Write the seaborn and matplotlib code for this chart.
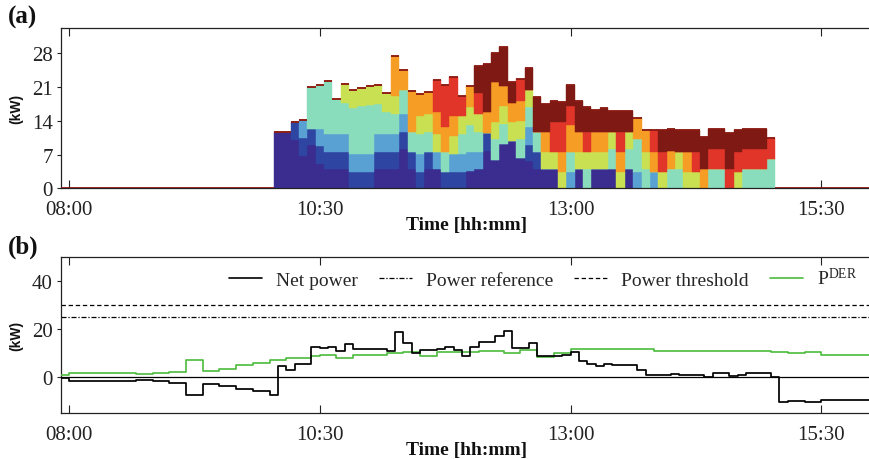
import numpy as np
import pandas as pd
import matplotlib
matplotlib.use("Agg")
import matplotlib.pyplot as plt
from matplotlib.lines import Line2D
import seaborn as sns

# ---------------- data ----------------
# (a) EV charging power, 5-min intervals, first interval centred at 10:05
ev_first = "10:05"
ev_step_min = 5
indigo = [11.7, 11.7, 10.1, 6.8, 9.0, 5.0, 4.0, 4.0, 4.0, 0,
          0, 0, 4.0, 4.0, 4.0, 8.2, 4.0, 0, 4.0, 4.0,
          0, 0, 0, 3.6, 4.0, 7.8, 5.9, 9.2, 9.9, 6.2,
          5.7, 4.0, 4.0, 4.0, 0, 0, 4.0, 0, 4.0, 4.0,
          4.0, 0, 4.0, 0, 0, 0, 0, 0, 0, 0,
          0, 0, 0, 0, 0, 0, 0, 0, 0, 0]
blue = [0, 0, 3.7, 3.6, 3.4, 3.7, 3.6, 3.6, 3.6, 3.4,
        3.4, 3.4, 3.6, 3.6, 3.6, 3.5, 3.6, 3.4, 3.6, 0,
        3.4, 3.4, 3.4, 0, 0, 3.7, 0, 0, 0, 0,
        3.3, 3.6, 0, 0, 0, 0, 0, 0, 0, 0,
        0, 0, 0, 0, 0, 0, 0, 0, 0, 0,
        0, 0, 0, 0, 0, 0, 0, 0, 0, 0]
light_blue = [0, 0, 0, 3.8, 0, 3.7, 3.7, 3.7, 3.7, 3.7,
              3.7, 3.7, 3.7, 3.7, 3.7, 3.7, 0, 3.7, 0, 3.6,
              0, 3.7, 3.7, 4.0, 3.6, 0, 0, 0, 0, 0,
              3.7, 0, 0, 0, 0, 3.4, 0, 0, 0, 0,
              0, 0, 0, 3.4, 0, 3.4, 0, 0, 0, 0,
              0, 0, 0, 0, 0, 0, 0, 0, 0, 0]
teal = [0, 0, 0, 0, 8.7, 9.0, 10.9, 7.2, 6.5, 9.6,
        10.0, 10.2, 6.2, 4.5, 4.1, 4.9, 4.1, 4.2, 4.1, 0,
        4.2, 0, 4.2, 5.5, 4.0, 0, 4.3, 4.1, 0, 4.0,
        4.1, 4.1, 0, 0, 0, 4.2, 0, 4.0, 0, 0,
        4.2, 0, 4.2, 6.8, 4.0, 0, 0, 4.0, 4.0, 0,
        0, 0, 4.0, 4.0, 0, 0, 4.0, 4.0, 4.0, 6.1]
yellow_green = [0, 0, 0, 0, 0, 0, 0, 0, 3.8, 3.8,
                3.7, 3.9, 3.9, 4.0, 3.7, 0, 0, 3.6, 3.7, 3.7,
                0, 3.7, 3.6, 3.7, 3.8, 0, 3.6, 3.8, 3.8, 3.8,
                3.7, 0, 3.6, 3.6, 3.4, 0, 3.6, 3.6, 3.6, 3.6,
                3.5, 3.4, 3.5, 0, 3.6, 0, 3.4, 0, 3.6, 3.4,
                3.4, 0, 0, 0, 0, 3.4, 0, 0, 0, 0]
orange = [0, 0, 0, 0, 0, 0, 0, 0, 0, 0,
          0, 0, 0, 0, 8.4, 4.2, 8.4, 4.7, 4.5, 4.6,
          5.2, 4.1, 0, 4.4, 0, 4.3, 8.2, 4.1, 4.0, 4.2,
          0, 0, 4.1, 0, 4.2, 5.5, 4.1, 0, 4.1, 4.1,
          0, 4.2, 0, 4.3, 4.4, 4.2, 0, 3.8, 0, 4.2,
          0, 4.0, 0, 0, 0, 0, 0, 0, 0, 0]
red = [0, 0, 0, 0, 0, 0, 0, 0, 0, 0,
       0, 0, 0, 0, 0, 0, 0, 0, 0, 6.6,
       8.7, 8.1, 4.3, 0, 4.4, 0, 0, 0, 0, 4.5,
       0, 0, 0, 6.1, 6.1, 4.0, 0, 4.1, 0, 0,
       0, 4.1, 0, 0, 0, 4.4, 4.2, 0, 0, 0,
       4.2, 0, 4.2, 4.2, 4.0, 4.2, 4.2, 4.2, 4.2, 4.3]
dark_red = [0, 0, 0, 0, 0, 0, 0, 0, 0, 0,
            0, 0, 0, 0, 0, 0, 0, 0, 0, 0,
            0, 0, 0, 0, 5.6, 10.0, 6.0, 8.1, 4.4, 0,
            4.4, 7.2, 5.8, 4.5, 4.3, 4.3, 6.5, 5.1, 4.6, 4.9,
            4.4, 4.4, 4.4, 0, 0, 0, 4.4, 4.6, 4.4, 4.4,
            4.4, 6.7, 4.2, 4.2, 7.5, 4.4, 4.2, 4.2, 4.2, 0]
layer_colors = ["#3b2c90", "#2f45a2", "#5aa1d3", "#89ddbd",
                "#c8e052", "#f59d25", "#e1352a", "#7e1a13"]

# (b) 5-min grid starting 07:55
grid_first = "07:55"
grid_step_min = 5
net_power = [-0.5, -1.4, -1.4, -1.4, -1.4, -1.4, -1.4, -1.4, -1.4, -1.1,
             -1.1, -1.5, -1.5, -2.3, -2.3, -7.2, -7.2, -2.8, -2.8, -3.5,
             -3.5, -5.1, -5.1, -5.8, -5.8, -7.2, 4.8, 3.1, 5.5, 5.5,
             12.4, 12.0, 12.6, 11.0, 13.7, 11.7, 11.7, 11.7, 11.7, 11.0,
             18.6, 14.2, 10.1, 11.2, 11.2, 11.7, 12.6, 11.2, 8.6, 12.6,
             14.7, 14.7, 16.9, 19.2, 12.1, 12.1, 14.0, 8.9, 8.6, 8.6,
             9.0, 10.3, 6.6, 5.5, 4.8, 5.5, 5.1, 5.1, 5.1, 3.1,
             1.0, 1.0, 1.0, 1.4, 1.0, 1.0, 1.0, 0.0, 1.6, 1.6,
             0.4, 1.0, 1.8, 1.8, 1.8, 0.2, -10.3, -10.0, -10.0, -10.3,
             -10.3, -9.3, -9.3, -9.3, -9.3, -9.3, -9.3]
p_der = [1.0, 1.6, 1.6, 1.6, 1.6, 1.6, 1.6, 1.6, 1.6, 1.2,
         1.2, 1.6, 1.6, 2.3, 2.3, 7.3, 7.3, 2.7, 2.7, 3.4,
         3.4, 5.1, 5.1, 5.8, 5.8, 7.1, 7.1, 8.0, 8.0, 8.0,
         8.9, 9.2, 9.2, 7.9, 7.9, 9.2, 9.2, 9.2, 9.2, 9.9,
         9.9, 10.6, 10.6, 8.9, 8.9, 10.6, 10.6, 10.6, 10.6, 10.6,
         11.0, 11.0, 11.0, 10.1, 10.1, 11.2, 11.2, 8.5, 8.5, 9.9,
         9.9, 11.7, 11.7, 11.7, 11.7, 11.7, 11.7, 11.7, 11.7, 11.7,
         11.7, 11.0, 11.0, 11.0, 11.0, 11.0, 11.0, 11.0, 11.0, 11.0,
         11.0, 11.0, 11.0, 11.0, 11.0, 10.6, 10.6, 9.9, 9.9, 10.3,
         10.3, 9.4, 9.4, 9.4, 9.4, 9.4, 9.4]
power_reference = 25
power_threshold = 30

tick_labels = ["08:00", "10:30", "13:00", "15:30"]
x_end = "16:00"


def to_min(s):
    return int(s[:2]) * 60 + int(s[3:]) - 8 * 60


# ---------------- style ----------------
sns.set_theme(style="white")
plt.rcParams["font.family"] = ["Liberation Serif", "DejaVu Serif"]
plt.rcParams["mathtext.fontset"] = "custom"
plt.rcParams["mathtext.rm"] = "Liberation Serif"
plt.rcParams["mathtext.it"] = "Liberation Serif:italic"
plt.rcParams["mathtext.bf"] = "Liberation Serif:bold"

fig = plt.figure(figsize=(8.7, 4.6), dpi=100)
W, H = 870.0, 460.0
x_lo = to_min(grid_first) + 0.2
x_hi = to_min(x_end)
ax_w = (x_hi - x_lo) * (100.3 / 60.0) / W
axa = fig.add_axes([61 / W, 1 - 189.3 / H, ax_w, 160.0 / H])
axb = fig.add_axes([61 / W, 1 - 414.3 / H, ax_w, 156.6 / H])

# ---------------- panel (a) ----------------
layers = [indigo, blue, light_blue, teal, yellow_green, orange, red, dark_red]
n = len(indigo)
t_ev = to_min(ev_first) + ev_step_min * np.arange(n)
bottom = np.zeros(n)
for vals, col in zip(layers, layer_colors):
    v = np.asarray(vals, dtype=float)
    axa.bar(t_ev, v, width=ev_step_min, bottom=bottom, color=col,
            edgecolor=col, linewidth=0.3, align="center", zorder=2)
    bottom += v
total = bottom
cap = "#8b1a12"
axa.hlines(total, t_ev - ev_step_min / 2, t_ev + ev_step_min / 2,
           color=cap, lw=1.3, zorder=3)
axa.hlines([0, 0], [x_lo, t_ev[-1] + ev_step_min / 2],
           [t_ev[0] - ev_step_min / 2, x_hi], color=cap, lw=1.3, zorder=3)
axa.set_ylim(0, 33.2)
axa.set_yticks([0, 7, 14, 21, 28])

# ---------------- panel (b) ----------------
m = len(net_power)
t_grid = to_min(grid_first) + grid_step_min * np.arange(m)
t_ext = np.append(t_grid, t_grid[-1] + grid_step_min)
df_b = pd.DataFrame({"t": t_ext,
                     "net": np.append(net_power, net_power[-1]),
                     "der": np.append(p_der, p_der[-1])})
axb.axhline(0, color="black", lw=0.9, zorder=1)
axb.axhline(power_threshold, color="black", lw=0.9, ls=(0, (3.5, 2.2)), zorder=1)
axb.axhline(power_reference, color="black", lw=0.9,
            ls=(0, (4, 1.5, 1, 1.5)), zorder=1)
sns.lineplot(data=df_b, x="t", y="der", ax=axb, color="#4cbb3c", lw=1.2,
             drawstyle="steps-post", estimator=None, zorder=3)
sns.lineplot(data=df_b, x="t", y="net", ax=axb, color="black", lw=1.25,
             drawstyle="steps-post", estimator=None, zorder=4)
axb.set_ylim(-15, 50)
axb.set_yticks([0, 20, 40])

handles = [Line2D([], [], color="black", lw=1.2),
           Line2D([], [], color="black", lw=0.9, ls=(0, (4, 1.5, 1, 1.5))),
           Line2D([], [], color="black", lw=0.9, ls=(0, (3.5, 2.2))),
           Line2D([], [], color="#4cbb3c", lw=1.2)]
labels = ["Net power", "Power reference", "Power threshold", r"P$^{\mathrm{DER}}$"]
axb.legend(handles, labels, ncol=4, frameon=False, fontsize=14,
           loc="center right", bbox_to_anchor=(0.982, 0.864),
           handlelength=1.7, handletextpad=0.7, columnspacing=1.1,
           borderaxespad=0, borderpad=0)

# ---------------- common axes styling ----------------
for ax, tag in [(axa, "(a)"), (axb, "(b)")]:
    ax.set_xlim(x_lo, x_hi)
    ax.set_xticks([to_min(s) for s in tick_labels])
    ax.set_xticklabels(tick_labels)
    ax.tick_params(axis="x", direction="in", length=6, width=0.8,
                   top=True, bottom=True, labelsize=15, pad=8.5,
                   colors="#222222", labelcolor="#222222")
    ax.tick_params(axis="y", direction="out", length=3, width=0.8,
                   left=True, right=False, labelsize=15, pad=3,
                   colors="#222222", labelcolor="#222222")
    for s in ax.spines.values():
        s.set_color("#222222")
        s.set_linewidth(0.9)
    ax.set_xlabel("Time [hh:mm]", fontsize=14, fontweight="bold", labelpad=-2,
                  color="#111111")
    ax.set_ylabel("(kW)", fontsize=10, fontweight="bold",
                  family=["Liberation Sans", "DejaVu Sans"], labelpad=2,
                  color="#111111")
    ax.grid(False)
    ax.set_facecolor("white")

axa.yaxis.set_label_coords(-0.046, 0.5)
axb.yaxis.set_label_coords(-0.046, 0.5)
fig.text(8 / W, 1 - 17 / H, "(a)", fontsize=18, fontweight="bold", va="center",
         ha="left", color="#111111")
fig.text(8 / W, 1 - 247 / H, "(b)", fontsize=18, fontweight="bold", va="center",
         ha="left", color="#111111")

fig.savefig("out.png", dpi=100)
